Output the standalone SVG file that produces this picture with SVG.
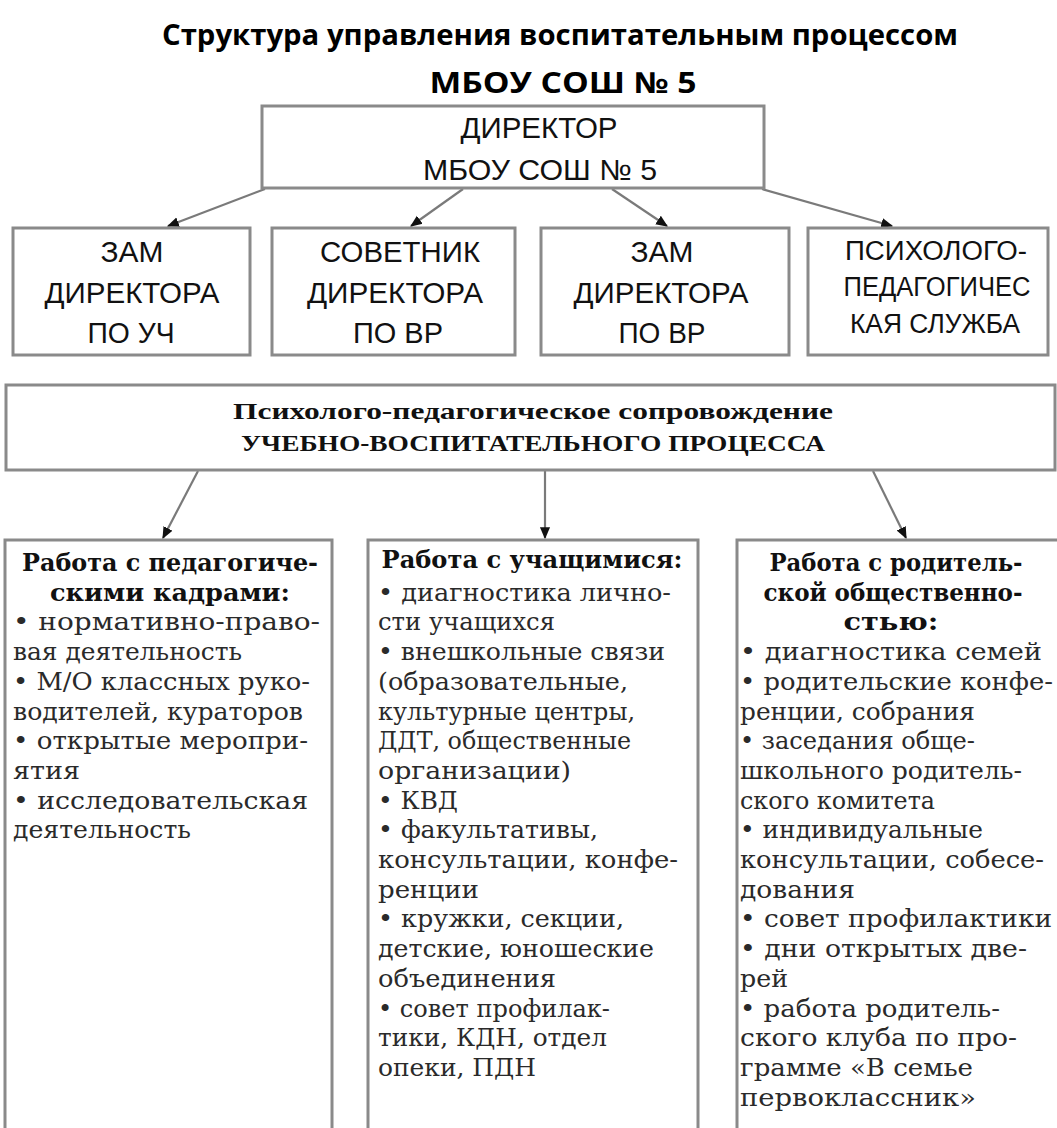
<svg xmlns="http://www.w3.org/2000/svg" width="1057" height="1128" viewBox="0 0 1057 1128">
<style>
.bx{fill:#fff;stroke:#8a8a8a;stroke-width:3}
.ttl{font-family:"Open Sans","Liberation Sans",sans-serif;font-weight:bold;font-size:29px;fill:#000;text-anchor:middle}
.sn{font-family:"Liberation Sans","DejaVu Sans",sans-serif;font-size:29px;fill:#111;text-anchor:middle}
.sn2{font-family:"Liberation Sans","DejaVu Sans",sans-serif;font-size:27px;fill:#111;text-anchor:middle}
.md{font-family:"Liberation Serif","DejaVu Serif",serif;font-weight:bold;font-size:23px;fill:#111;text-anchor:middle}
.hd{font-family:"DejaVu Serif","Liberation Serif",serif;font-weight:bold;font-size:24px;fill:#111;text-anchor:middle}
.bd{font-family:"DejaVu Serif","Liberation Serif",serif;font-size:24px;fill:#2a2a2a}
.cn{stroke:#7a7a7a;stroke-width:2.2;fill:none;marker-end:url(#ah)}
</style>
<defs>
<marker id="ah" viewBox="0 0 10 10" refX="9" refY="5" markerWidth="12" markerHeight="12" markerUnits="userSpaceOnUse" orient="auto">
<path d="M0,0.8 L10,5 L0,9.2 z" fill="#111"/>
</marker>
</defs>
<rect width="1057" height="1128" fill="#fff"/>
<g id="title">
<text class="ttl" x="560" y="45" textLength="796" lengthAdjust="spacingAndGlyphs">Структура управления воспитательным процессом</text>
<text class="ttl" x="563" y="93" textLength="267" lengthAdjust="spacingAndGlyphs">МБОУ СОШ № 5</text>
</g>
<g id="connectors">
<line class="cn" x1="265" y1="189" x2="168" y2="226"/>
<line class="cn" x1="463" y1="189" x2="411" y2="226"/>
<line class="cn" x1="612" y1="189" x2="667" y2="226"/>
<line class="cn" x1="762" y1="189" x2="892" y2="226"/>
<line class="cn" x1="198" y1="471" x2="163" y2="538"/>
<line class="cn" x1="545" y1="471" x2="545" y2="538"/>
<line class="cn" x1="873" y1="471" x2="906" y2="538"/>
</g>
<g id="director">
<rect class="bx" x="262" y="106" width="502" height="82"/>
<text class="sn" x="539" y="138" textLength="157" lengthAdjust="spacingAndGlyphs">ДИРЕКТОР</text>
<text class="sn" x="540" y="180" textLength="234" lengthAdjust="spacingAndGlyphs">МБОУ СОШ № 5</text>
</g>
<g id="zam-uch">
<rect class="bx" x="13" y="228" width="237" height="127"/>
<text class="sn" x="132" y="262" textLength="63" lengthAdjust="spacingAndGlyphs">ЗАМ</text>
<text class="sn" x="132" y="303" textLength="175" lengthAdjust="spacingAndGlyphs">ДИРЕКТОРА</text>
<text class="sn" x="131" y="343" textLength="87" lengthAdjust="spacingAndGlyphs">ПО УЧ</text>
</g>
<g id="sovetnik">
<rect class="bx" x="272" y="228" width="243" height="127"/>
<text class="sn" x="400" y="262" textLength="160" lengthAdjust="spacingAndGlyphs">СОВЕТНИК</text>
<text class="sn" x="395" y="303" textLength="176" lengthAdjust="spacingAndGlyphs">ДИРЕКТОРА</text>
<text class="sn" x="398" y="343" textLength="90" lengthAdjust="spacingAndGlyphs">ПО ВР</text>
</g>
<g id="zam-vr">
<rect class="bx" x="541" y="228" width="248" height="127"/>
<text class="sn" x="662" y="262" textLength="63" lengthAdjust="spacingAndGlyphs">ЗАМ</text>
<text class="sn" x="661" y="303" textLength="175" lengthAdjust="spacingAndGlyphs">ДИРЕКТОРА</text>
<text class="sn" x="662" y="343" textLength="87" lengthAdjust="spacingAndGlyphs">ПО ВР</text>
</g>
<g id="psy">
<rect class="bx" x="808" y="228" width="240" height="127"/>
<text class="sn2" x="936" y="260" textLength="182" lengthAdjust="spacingAndGlyphs">ПСИХОЛОГО-</text>
<text class="sn2" x="937" y="296" textLength="187" lengthAdjust="spacingAndGlyphs">ПЕДАГОГИЧЕС</text>
<text class="sn2" x="935" y="333" textLength="170" lengthAdjust="spacingAndGlyphs">КАЯ СЛУЖБА</text>
</g>
<g id="soprovozhdenie">
<rect class="bx" x="6" y="385" width="1049" height="85"/>
<text class="md" x="533" y="419" textLength="600" lengthAdjust="spacingAndGlyphs">Психолого-педагогическое сопровождение</text>
<text class="md" x="533" y="451" textLength="584" lengthAdjust="spacingAndGlyphs">УЧЕБНО-ВОСПИТАТЕЛЬНОГО ПРОЦЕССА</text>
</g>
<g id="kadry">
<rect class="bx" x="5" y="540" width="327" height="600"/>
<text class="hd" x="170" y="571" textLength="296" lengthAdjust="spacingAndGlyphs">Работа с педагогиче-</text>
<text class="hd" x="170" y="600.7" textLength="240" lengthAdjust="spacingAndGlyphs">скими кадрами:</text>
<text class="bd" x="13" y="630.4" textLength="307" lengthAdjust="spacingAndGlyphs">• нормативно-право-</text>
<text class="bd" x="13" y="660.1" textLength="229" lengthAdjust="spacingAndGlyphs">вая деятельность</text>
<text class="bd" x="13" y="689.8" textLength="297" lengthAdjust="spacingAndGlyphs">• М/О классных руко-</text>
<text class="bd" x="13" y="719.5" textLength="290" lengthAdjust="spacingAndGlyphs">водителей, кураторов</text>
<text class="bd" x="13" y="749.2" textLength="295" lengthAdjust="spacingAndGlyphs">• открытые меропри-</text>
<text class="bd" x="13" y="778.9" textLength="67" lengthAdjust="spacingAndGlyphs">ятия</text>
<text class="bd" x="13" y="808.6" textLength="295" lengthAdjust="spacingAndGlyphs">• исследовательская</text>
<text class="bd" x="13" y="838.3" textLength="178" lengthAdjust="spacingAndGlyphs">деятельность</text>
</g>
<g id="uchashchiesya">
<rect class="bx" x="368" y="540" width="330" height="600"/>
<text class="hd" x="532" y="568" textLength="301" lengthAdjust="spacingAndGlyphs">Работа с учащимися:</text>
<text class="bd" x="378" y="600.7" textLength="293" lengthAdjust="spacingAndGlyphs">• диагностика лично-</text>
<text class="bd" x="378" y="630.4" textLength="177" lengthAdjust="spacingAndGlyphs">сти учащихся</text>
<text class="bd" x="378" y="660.1" textLength="287" lengthAdjust="spacingAndGlyphs">• внешкольные связи</text>
<text class="bd" x="378" y="689.8" textLength="250" lengthAdjust="spacingAndGlyphs">(образовательные,</text>
<text class="bd" x="378" y="719.5" textLength="257" lengthAdjust="spacingAndGlyphs">культурные центры,</text>
<text class="bd" x="378" y="749.2" textLength="253" lengthAdjust="spacingAndGlyphs">ДДТ, общественные</text>
<text class="bd" x="378" y="778.9" textLength="193" lengthAdjust="spacingAndGlyphs">организации)</text>
<text class="bd" x="378" y="808.6" textLength="80" lengthAdjust="spacingAndGlyphs">• КВД</text>
<text class="bd" x="378" y="838.3" textLength="220" lengthAdjust="spacingAndGlyphs">• факультативы,</text>
<text class="bd" x="378" y="868" textLength="300" lengthAdjust="spacingAndGlyphs">консультации, конфе-</text>
<text class="bd" x="378" y="897.7" textLength="101" lengthAdjust="spacingAndGlyphs">ренции</text>
<text class="bd" x="378" y="927.4" textLength="246" lengthAdjust="spacingAndGlyphs">• кружки, секции,</text>
<text class="bd" x="378" y="957.1" textLength="276" lengthAdjust="spacingAndGlyphs">детские, юношеские</text>
<text class="bd" x="378" y="986.8" textLength="178" lengthAdjust="spacingAndGlyphs">объединения</text>
<text class="bd" x="378" y="1016.5" textLength="232" lengthAdjust="spacingAndGlyphs">• совет профилак-</text>
<text class="bd" x="378" y="1046.2" textLength="229" lengthAdjust="spacingAndGlyphs">тики, КДН, отдел</text>
<text class="bd" x="378" y="1075.9" textLength="158" lengthAdjust="spacingAndGlyphs">опеки, ПДН</text>
</g>
<g id="roditeli">
<rect class="bx" x="737" y="540" width="330" height="600"/>
<text class="hd" x="896" y="571" textLength="253" lengthAdjust="spacingAndGlyphs">Работа с родитель-</text>
<text class="hd" x="893" y="600.7" textLength="259" lengthAdjust="spacingAndGlyphs">ской общественно-</text>
<text class="hd" x="891" y="630.4" textLength="95" lengthAdjust="spacingAndGlyphs">стью:</text>
<text class="bd" x="740" y="660.1" textLength="302" lengthAdjust="spacingAndGlyphs">• диагностика семей</text>
<text class="bd" x="740" y="689.8" textLength="313" lengthAdjust="spacingAndGlyphs">• родительские конфе-</text>
<text class="bd" x="740" y="719.5" textLength="235" lengthAdjust="spacingAndGlyphs">ренции, собрания</text>
<text class="bd" x="740" y="749.2" textLength="235" lengthAdjust="spacingAndGlyphs">• заседания обще-</text>
<text class="bd" x="740" y="778.9" textLength="282" lengthAdjust="spacingAndGlyphs">школьного родитель-</text>
<text class="bd" x="740" y="808.6" textLength="195" lengthAdjust="spacingAndGlyphs">ского комитета</text>
<text class="bd" x="740" y="838.3" textLength="243" lengthAdjust="spacingAndGlyphs">• индивидуальные</text>
<text class="bd" x="740" y="868" textLength="304" lengthAdjust="spacingAndGlyphs">консультации, собесе-</text>
<text class="bd" x="740" y="897.7" textLength="115" lengthAdjust="spacingAndGlyphs">дования</text>
<text class="bd" x="740" y="927.4" textLength="312" lengthAdjust="spacingAndGlyphs">• совет профилактики</text>
<text class="bd" x="740" y="957.1" textLength="287" lengthAdjust="spacingAndGlyphs">• дни открытых две-</text>
<text class="bd" x="740" y="986.8" textLength="48" lengthAdjust="spacingAndGlyphs">рей</text>
<text class="bd" x="740" y="1016.5" textLength="260" lengthAdjust="spacingAndGlyphs">• работа родитель-</text>
<text class="bd" x="740" y="1046.2" textLength="277" lengthAdjust="spacingAndGlyphs">ского клуба по про-</text>
<text class="bd" x="740" y="1075.9" textLength="233" lengthAdjust="spacingAndGlyphs">грамме «В семье</text>
<text class="bd" x="740" y="1105.6" textLength="236" lengthAdjust="spacingAndGlyphs">первоклассник»</text>
</g>
</svg>
